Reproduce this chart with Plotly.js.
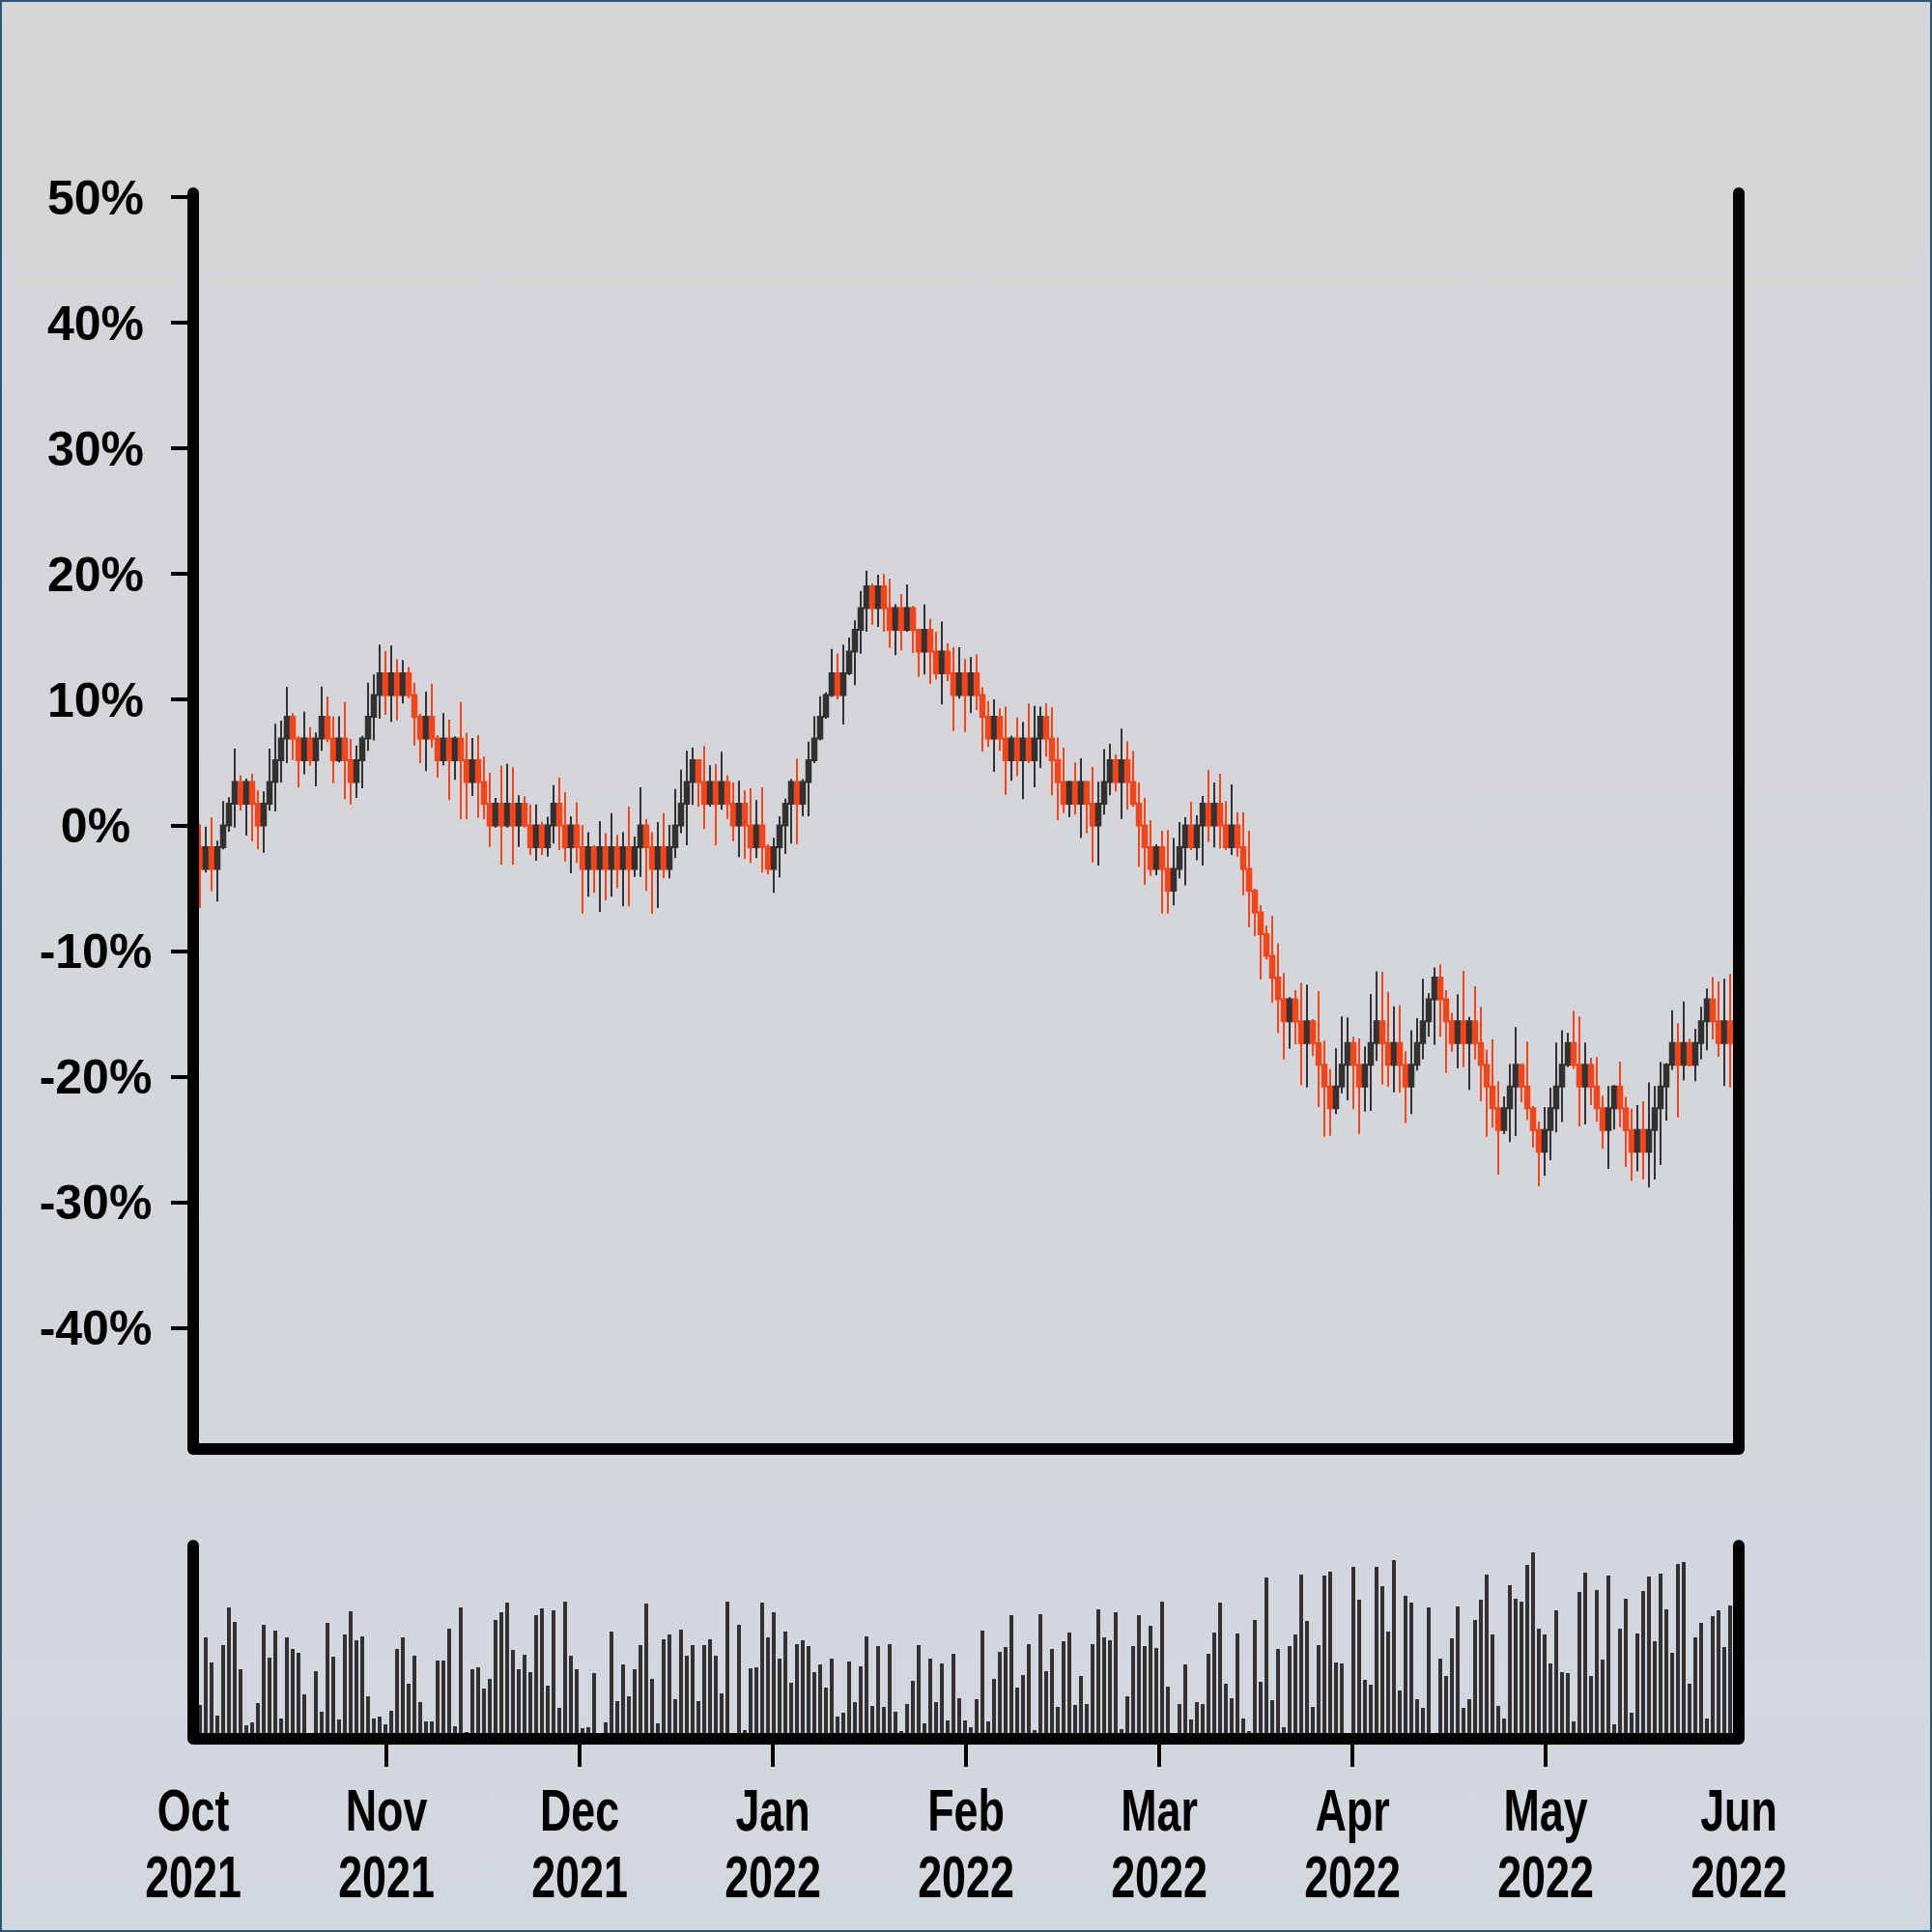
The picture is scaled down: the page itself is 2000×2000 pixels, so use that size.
<!DOCTYPE html>
<html>
<head>
<meta charset="utf-8">
<script src="https://cdn.plot.ly/plotly-3.0.1.min.js"></script>
<style>
  html, body { margin: 0; padding: 0; }
  #wrap { position: relative; width: 2000px; height: 2000px;
          background: linear-gradient(to bottom, #d4d5d7 0%, #d3d6da 50%, #d1d8de 100%); }
  #chart { position: absolute; left: 0; top: 0; width: 2000px; height: 2000px; }
  #frame { position: absolute; left: 0; top: 0; width: 2000px; height: 2000px;
           box-sizing: border-box; border: 2px solid #2b5877; pointer-events: none; }
  #chart .shapelayer path { stroke-linecap: round; stroke-linejoin: round; }
</style>
</head>
<body>
<div id="wrap"><div id="chart"></div><div id="frame"></div></div>
<script>
// ---------- data (percent change, one candle per period) ----------
const openPct = [
 -1.73,-3.46,-1.73,-3.46,-1.73,0,1.73,3.46,1.73,3.46,
 1.73,0,1.73,3.46,5.19,6.92,8.65,6.92,5.19,6.92,
 5.19,6.92,8.65,6.92,5.19,6.92,5.19,3.46,5.19,6.92,
 8.65,10.38,12.11,10.38,12.11,10.38,12.11,10.38,8.65,6.92,
 8.65,6.92,5.19,6.92,5.19,6.92,5.19,3.46,5.19,3.46,
 1.73,0,1.73,0,1.73,0,1.73,0,-1.73,0,
 -1.73,0,1.73,0,-1.73,0,-1.73,-3.46,-1.73,-3.46,
 -1.73,-3.46,-1.73,-3.46,-1.73,-3.46,-1.73,0,-1.73,-3.46,
 -1.73,-3.46,-1.73,0,1.73,3.46,5.19,3.46,1.73,3.46,
 1.73,3.46,1.73,0,1.73,0,-1.73,0,-1.73,-3.46,
 -1.73,0,1.73,3.46,1.73,3.46,5.19,6.92,8.65,10.38,
 12.11,10.38,12.11,13.84,15.57,17.30,19.03,17.30,19.03,17.30,
 15.57,17.30,15.57,17.30,15.57,13.84,15.57,13.84,12.11,13.84,
 12.11,10.38,12.11,10.38,12.11,10.38,8.65,6.92,8.65,6.92,
 5.19,6.92,5.19,6.92,5.19,6.92,8.65,6.92,5.19,3.46,
 1.73,3.46,1.73,3.46,1.73,0,1.73,3.46,5.19,3.46,
 5.19,3.46,1.73,0,-1.73,-3.46,-1.73,-3.46,-5.19,-3.46,
 -1.73,0,-1.73,0,1.73,0,1.73,0,-1.73,0,
 -1.73,-3.46,-5.19,-6.92,-8.65,-10.38,-12.11,-13.84,-15.57,-13.84,
 -15.57,-17.30,-15.57,-17.30,-19.03,-20.76,-22.49,-20.76,-19.03,-17.30,
 -19.03,-20.76,-19.03,-17.30,-15.57,-17.30,-19.03,-17.30,-19.03,-20.76,
 -19.03,-17.30,-15.57,-13.84,-12.11,-13.84,-15.57,-17.30,-15.57,-17.30,
 -15.57,-17.30,-19.03,-20.76,-22.49,-24.22,-22.49,-20.76,-19.03,-20.76,
 -22.49,-24.22,-25.95,-24.22,-22.49,-20.76,-19.03,-17.30,-19.03,-20.76,
 -19.03,-20.76,-22.49,-24.22,-22.49,-20.76,-22.49,-24.22,-25.95,-24.22,
 -25.95,-24.22,-22.49,-20.76,-19.03,-17.30,-19.03,-17.30,-19.03,-17.30,
 -15.57,-13.84,-15.57,-17.30,-15.57
];
const highPct = [
 0.10,-0.10,0.66,-1.20,1.94,2.25,6.12,3.99,3.74,4.12,
 2.79,2.71,6.12,8.09,8.35,11.04,8.94,7.10,9.06,7.83,
 7.40,11.06,10.27,8.68,8.68,9.83,6.89,6.37,7.14,11.37,
 12.01,14.40,13.88,14.32,13.24,13.16,12.60,11.37,8.90,10.65,
 11.29,7.20,8.94,8.42,7.09,9.83,7.37,6.96,7.19,5.48,
 4.20,2.20,4.76,4.91,4.63,2.41,2.33,1.68,1.68,0.30,
 0.69,3.22,3.81,2.66,0.74,1.84,0.05,-0.54,-1.57,0.35,
 -0.62,0.99,-0.75,-0.54,1.51,-0.88,3.04,0.53,-0.54,0.28,
 0.99,0.05,2.91,4.45,5.94,6.20,5.22,6.30,4.79,4.89,
 5.86,3.99,3.43,3.56,2.79,2.97,2.02,3.04,-1.50,-0.98,
 0.74,2.14,3.70,5.30,3.70,6.68,8.68,10.29,10.60,14.06,
 13.67,14.40,14.96,16.32,18.67,20.28,19.26,19.95,20.01,19.64,
 17.60,18.42,19.18,17.47,15.60,17.59,16.45,15.42,16.24,14.50,
 14.19,14.19,13.24,13.40,13.60,11.00,9.90,10.04,9.32,9.45,
 7.14,8.60,8.25,9.71,9.52,9.45,9.71,9.40,7.02,6.20,
 3.56,5.02,5.35,3.56,4.66,3.48,6.07,6.50,5.66,7.71,
 6.71,5.94,3.43,2.20,0.41,-1.49,-0.41,-0.36,-1.00,0.28,
 0.66,1.89,0.81,2.35,4.40,3.43,4.12,1.94,3.27,1.07,
 1.07,-0.41,-5.03,-6.36,-7.97,-7.20,-9.38,-11.74,-13.66,-13.10,
 -12.51,-12.66,-15.40,-13.17,-17.12,-19.38,-17.71,-15.20,-15.28,-16.81,
 -16.94,-17.58,-13.40,-11.61,-11.64,-13.23,-14.38,-14.30,-17.96,-16.30,
 -15.33,-12.20,-13.35,-11.30,-11.04,-13.10,-14.90,-13.43,-11.56,-15.23,
 -12.79,-14.43,-17.84,-17.02,-20.35,-21.55,-18.99,-16.04,-18.99,-17.20,
 -22.32,-23.55,-22.40,-20.86,-17.27,-16.30,-16.50,-14.76,-15.20,-17.27,
 -18.48,-18.43,-21.50,-20.73,-20.65,-18.78,-21.60,-22.53,-22.24,-21.94,
 -20.45,-20.73,-18.81,-18.91,-14.69,-15.73,-14.00,-16.99,-16.17,-14.43,
 -12.97,-12.07,-12.40,-12.20,-11.82
];
const lowPct = [
 -6.56,-3.74,-5.23,-6.05,-1.90,-0.49,-0.16,1.18,-0.80,-1.24,
 -1.90,-2.16,1.18,1.12,3.43,4.97,5.22,3.04,4.07,4.76,
 3.12,5.94,6.63,3.37,5.02,2.10,1.68,2.20,2.97,5.94,
 6.76,8.50,8.81,8.25,8.37,9.71,10.14,6.37,4.97,4.33,
 6.17,3.81,4.79,2.02,3.64,0.48,0.48,2.35,0.61,0.48,
 -1.70,-0.16,-3.11,-0.16,-3.11,-1.70,-0.16,-2.34,-2.80,-2.34,
 -2.47,-1.44,-1.95,-2.85,-3.80,-2.98,-7.00,-5.67,-5.36,-6.87,
 -5.97,-5.67,-4.97,-6.43,-6.43,-4.08,-4.08,-5.20,-7.03,-6.56,
 -4.18,-4.21,-2.59,-0.62,-1.57,1.64,1.51,-0.29,1.51,-1.57,
 1.25,0.53,-1.24,-2.51,-2.67,-2.98,-2.59,-3.74,-3.87,-5.36,
 -4.13,-2.26,-1.44,-1.49,0.74,0.74,4.97,6.76,8.50,10.22,
 10.04,8.04,11.96,11.17,13.67,15.42,15.98,15.80,15.42,14.14,
 13.55,13.93,15.42,13.73,11.83,12.01,11.24,11.63,9.63,11.50,
 7.52,10.09,7.45,8.94,9.19,5.86,6.25,4.27,5.94,2.45,
 3.56,3.94,2.10,4.97,3.04,4.58,5.48,2.41,0.43,0.99,
 0.66,0.87,-1.00,-0.62,-2.93,-3.18,0.87,2.41,2.71,0.53,
 1.25,1.51,-3.28,-4.70,-4.00,-3.95,-7.00,-7.00,-6.36,-4.20,
 -4.77,-1.95,-2.77,-3.18,-1.31,-1.75,-1.82,-1.95,-2.34,-2.47,
 -5.54,-8.10,-8.79,-12.25,-10.66,-14.12,-16.50,-18.61,-17.76,-17.40,
 -20.65,-20.84,-18.35,-22.40,-24.76,-24.68,-22.96,-21.30,-21.86,-22.58,
 -24.55,-22.76,-22.71,-18.73,-20.61,-20.79,-21.22,-21.24,-23.68,-22.96,
 -19.50,-18.61,-16.81,-17.45,-16.81,-19.68,-18.00,-19.32,-19.24,-21.04,
 -18.61,-21.94,-24.76,-24.04,-27.78,-24.55,-25.19,-24.70,-22.02,-23.42,
 -25.65,-28.73,-27.88,-26.63,-24.42,-23.60,-19.24,-19.37,-23.94,-23.78,
 -22.24,-23.55,-25.73,-27.32,-24.19,-23.99,-27.14,-28.26,-27.52,-28.16,
 -28.80,-28.16,-27.01,-23.47,-19.45,-23.22,-20.27,-19.17,-20.35,-18.61,
 -17.89,-17.02,-18.40,-20.73,-20.84
];
const closePct = [
 -3.46,-1.73,-3.46,-1.73,0,1.73,3.46,1.73,3.46,1.73,
 0,1.73,3.46,5.19,6.92,8.65,6.92,5.19,6.92,5.19,
 6.92,8.65,6.92,5.19,6.92,5.19,3.46,5.19,6.92,8.65,
 10.38,12.11,10.38,12.11,10.38,12.11,10.38,8.65,6.92,8.65,
 6.92,5.19,6.92,5.19,6.92,5.19,3.46,5.19,3.46,1.73,
 0,1.73,0,1.73,0,1.73,0,-1.73,0,-1.73,
 0,1.73,0,-1.73,0,-1.73,-3.46,-1.73,-3.46,-1.73,
 -3.46,-1.73,-3.46,-1.73,-3.46,-1.73,0,-1.73,-3.46,-1.73,
 -3.46,-1.73,0,1.73,3.46,5.19,3.46,1.73,3.46,1.73,
 3.46,1.73,0,1.73,0,-1.73,0,-1.73,-3.46,-1.73,
 0,1.73,3.46,1.73,3.46,5.19,6.92,8.65,10.38,12.11,
 10.38,12.11,13.84,15.57,17.30,19.03,17.30,19.03,17.30,15.57,
 17.30,15.57,17.30,15.57,13.84,15.57,13.84,12.11,13.84,12.11,
 10.38,12.11,10.38,12.11,10.38,8.65,6.92,8.65,6.92,5.19,
 6.92,5.19,6.92,5.19,6.92,8.65,6.92,5.19,3.46,1.73,
 3.46,1.73,3.46,1.73,0,1.73,3.46,5.19,3.46,5.19,
 3.46,1.73,0,-1.73,-3.46,-1.73,-3.46,-5.19,-3.46,-1.73,
 0,-1.73,0,1.73,0,1.73,0,-1.73,0,-1.73,
 -3.46,-5.19,-6.92,-8.65,-10.38,-12.11,-13.84,-15.57,-13.84,-15.57,
 -17.30,-15.57,-17.30,-19.03,-20.76,-22.49,-20.76,-19.03,-17.30,-19.03,
 -20.76,-19.03,-17.30,-15.57,-17.30,-19.03,-17.30,-19.03,-20.76,-19.03,
 -17.30,-15.57,-13.84,-12.11,-13.84,-15.57,-17.30,-15.57,-17.30,-15.57,
 -17.30,-19.03,-20.76,-22.49,-24.22,-22.49,-20.76,-19.03,-20.76,-22.49,
 -24.22,-25.95,-24.22,-22.49,-20.76,-19.03,-17.30,-19.03,-20.76,-19.03,
 -20.76,-22.49,-24.22,-22.49,-20.76,-22.49,-24.22,-25.95,-24.22,-25.95,
 -24.22,-22.49,-20.76,-19.03,-17.30,-19.03,-17.30,-19.03,-17.30,-15.57,
 -13.84,-15.57,-17.30,-15.57,-17.30
];
const volume = [
 35,105,79,24,97,136,121,72,14,17,
 37,118,84,112,21,105,93,89,46,0,
 70,28,120,85,20,108,132,102,106,44,
 21,23,15,29,93,105,57,86,38,18,
 18,81,81,114,13,136,7,72,74,52,
 62,123,131,141,92,72,87,69,128,135,
 55,133,32,142,86,72,11,12,68,0,
 17,111,39,77,44,72,97,140,62,16,
 103,108,41,113,86,97,39,97,103,86,
 47,142,0,118,9,73,74,141,105,131,
 83,111,58,98,102,96,69,77,53,83,
 23,27,80,38,75,106,34,96,33,98,
 28,8,36,60,97,16,83,38,78,19,
 88,42,19,12,41,112,18,62,90,95,
 128,53,66,98,9,129,70,93,33,101,
 110,35,65,36,98,134,105,102,131,10,
 44,96,128,96,117,94,142,54,0,36,
 77,20,38,36,88,110,141,57,42,109,
 21,8,123,59,167,40,93,12,96,108,
 170,122,33,97,169,173,79,78,0,178,
 144,61,56,178,158,111,185,50,148,141,
 41,32,136,0,83,65,104,137,32,41,
 123,144,170,108,34,21,159,145,142,180,
 193,114,108,78,133,69,68,18,152,172,
 65,154,82,169,15,114,145,27,109,153,
 168,101,171,134,89,181,183,57,105,120,
 21,127,133,95,138
];
const monthLabels = ['Oct<br>2021','Nov<br>2021','Dec<br>2021','Jan<br>2022','Feb<br>2022',
                     'Mar<br>2022','Apr<br>2022','May<br>2022','Jun<br>2022'];
const pctTickVals = [-40,-30,-20,-10,0,10,20,30,40,50];
const pctTickText = ['-40%','-30%','-20%','-10%','0%','10%','20%','30%','40%','50%'];

// ---------- build ----------
const idx = openPct.map((_, i) => i);
const xRange = [-7/6, 265.5];
const monthTickVals = monthLabels.map((_, i) => xRange[0] + i * (xRange[1] - xRange[0]) / (monthLabels.length - 1));

const xTickFont = {family: '"Liberation Sans", Arial, sans-serif', size: 61, color: '#000', weight: 'bold'};
const yTickFont = {family: '"Liberation Sans", Arial, sans-serif', size: 50, color: '#000', weight: 'bold'};

const UP = '#333132', DOWN = '#F4451A';

const traces = [
  {
    type: 'candlestick', x: idx, open: openPct, high: highPct, low: lowPct, close: closePct,
    xaxis: 'x', yaxis: 'y',
    increasing: {line: {color: UP, width: 2}, fillcolor: UP},
    decreasing: {line: {color: DOWN, width: 2}, fillcolor: DOWN},
    whiskerwidth: 0, hoverinfo: 'skip', showlegend: false
  },
  {
    type: 'bar', x: idx, y: volume, xaxis: 'x2', yaxis: 'y2',
    marker: {color: UP, line: {width: 0}}, width: 0.667, hoverinfo: 'skip', showlegend: false
  }
];

const noLine = {showline: false, showgrid: false, zeroline: false, fixedrange: true};
const frameLine = {color: '#000', width: 12};

const layout = {
  width: 2000, height: 2000,
  margin: {l: 200, r: 200, t: 200, b: 200, pad: 0},
  paper_bgcolor: 'rgba(0,0,0,0)', plot_bgcolor: 'rgba(0,0,0,0)',
  showlegend: false,
  boxgap: 0.25, boxgroupgap: 0,
  bargap: 0,
  xaxis: Object.assign({}, noLine, {
    domain: [0, 1], range: xRange, anchor: 'y', type: 'linear',
    showticklabels: false, ticks: '', rangeslider: {visible: false}
  }),
  yaxis: Object.assign({}, noLine, {
    domain: [0.1875, 1], range: [-49.61, 50.31], anchor: 'x',
    tickmode: 'array', tickvals: pctTickVals, ticktext: pctTickText,
    ticks: 'outside', ticklen: 22, tickwidth: 4, tickcolor: '#000',
    tickfont: yTickFont, ticklabelstandoff: 18
  }),
  xaxis2: Object.assign({}, noLine, {
    domain: [0, 1], range: xRange, anchor: 'y2', type: 'linear',
    tickmode: 'array', tickvals: monthTickVals, ticktext: monthLabels,
    ticks: 'outside', ticklen: 28, tickwidth: 4, tickcolor: '#000',
    tickfont: xTickFont, ticklabelstandoff: 0
  }),
  yaxis2: Object.assign({}, noLine, {
    domain: [0, 0.125], range: [0, 200], anchor: 'x2',
    showticklabels: false, ticks: ''
  }),
  shapes: [
    {type: 'path', xref: 'paper', yref: 'paper', path: 'M0,1 L0,0.1875 L1,0.1875 L1,1',
     line: frameLine, fillcolor: 'rgba(0,0,0,0)', layer: 'above'},
    {type: 'path', xref: 'paper', yref: 'paper', path: 'M0,0.125 L0,0 L1,0 L1,0.125',
     line: frameLine, fillcolor: 'rgba(0,0,0,0)', layer: 'above'}
  ]
};

Plotly.newPlot('chart', traces, layout, {staticPlot: true, displayModeBar: false}).then(function (gd) {
  const root = gd.getBoundingClientRect();
  // month labels: condensed bold lettering, tighter line spacing
  gd.querySelectorAll('g.x2tick text').forEach(function (t) {
    const lines = t.querySelectorAll('tspan.line');
    if (lines.length > 1) lines[1].setAttribute('dy', '1.12em');
    const bb = t.getBBox();
    const cx = bb.x + bb.width / 2;
    const tr = t.getAttribute('transform') || '';
    t.setAttribute('transform', tr + ' translate(0,-7) translate(' + cx + ',0) scale(0.735,1) translate(' + (-cx) + ',0)');
  });
  // percent labels: centred in the left margin
  gd.querySelectorAll('g.ytick text').forEach(function (t) {
    const r = t.getBoundingClientRect();
    const dx = 99 - (r.left + r.width / 2 - root.left);
    const tr = t.getAttribute('transform') || '';
    t.setAttribute('transform', tr + ' translate(' + dx + ',0)');
  });
  // no tick marks under the rounded frame corners
  gd.querySelectorAll('path.x2tick').forEach(function (p) {
    const r = p.getBoundingClientRect();
    const cx = r.left + r.width / 2 - root.left;
    if (cx < 205 || cx > 1795) p.style.display = 'none';
  });
});
</script>
</body>
</html>
